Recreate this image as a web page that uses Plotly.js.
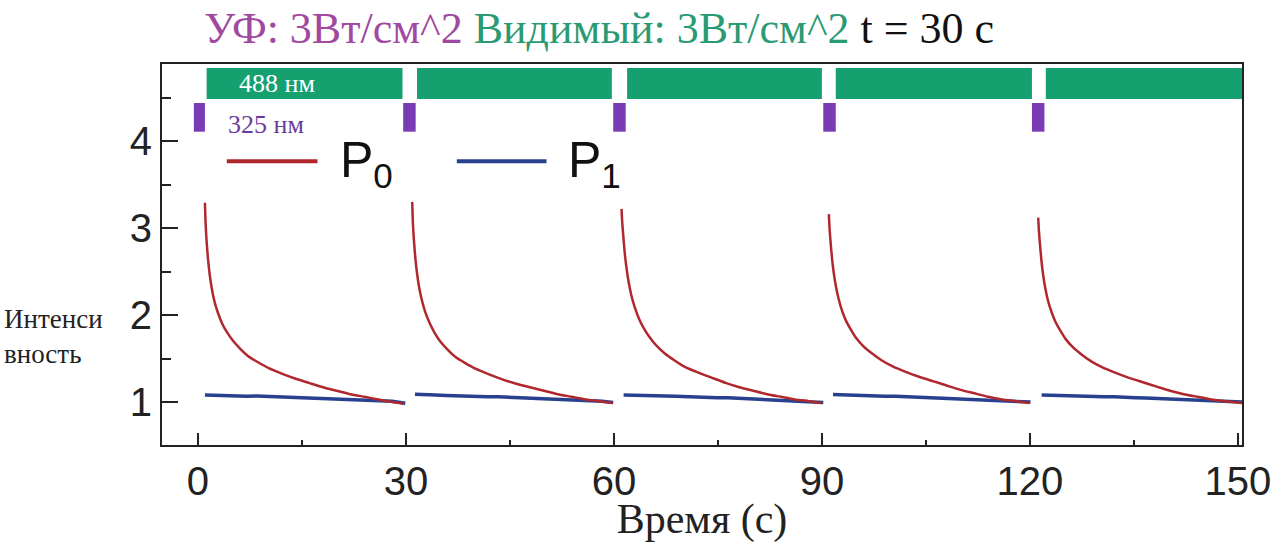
<!DOCTYPE html>
<html>
<head>
<meta charset="utf-8">
<script src="https://cdn.plot.ly/plotly-3.0.1.min.js"></script>
<style>html,body{margin:0;padding:0;background:#fff;}#chart{width:1287px;height:543px;}</style>
</head>
<body>
<div id="chart"></div>
<script>
// ---- data ----
// P0 decay curves, one segment per 30 s cycle (time in s)
const p0Time1 = [1.0, 1.1, 1.25, 1.45, 1.7, 2.0, 2.4, 2.9, 3.5, 4.2, 5.0, 6.0, 7.2, 8.6, 10.2, 12.0, 14.0, 16.0, 18.0, 20.0, 22.0, 24.0, 26.0, 28.0, 29.7];
const p0Val1  = [3.29, 3.05, 2.84, 2.64, 2.46, 2.30, 2.15, 2.02, 1.90, 1.80, 1.71, 1.62, 1.53, 1.46, 1.39, 1.33, 1.27, 1.22, 1.17, 1.13, 1.09, 1.06, 1.03, 1.00, 0.98];
const p0Time2 = [30.9, 31.0, 31.15, 31.35, 31.6, 31.9, 32.3, 32.8, 33.4, 34.1, 34.9, 35.9, 37.1, 38.5, 40.1, 41.9, 43.9, 45.9, 47.9, 49.9, 51.9, 53.9, 55.9, 57.9, 59.8];
const p0Val2  = [3.30, 3.06, 2.86, 2.66, 2.48, 2.32, 2.17, 2.03, 1.91, 1.80, 1.70, 1.61, 1.52, 1.45, 1.38, 1.32, 1.26, 1.21, 1.17, 1.13, 1.09, 1.06, 1.03, 1.01, 0.99];
const p0Time3 = [61.1, 61.2, 61.35, 61.55, 61.8, 62.1, 62.5, 63.0, 63.6, 64.3, 65.1, 66.1, 67.3, 68.7, 70.3, 72.1, 74.1, 76.1, 78.1, 80.1, 82.1, 84.1, 86.1, 88.1, 89.9];
const p0Val3  = [3.22, 3.06, 2.91, 2.72, 2.55, 2.39, 2.23, 2.09, 1.96, 1.85, 1.75, 1.65, 1.56, 1.48, 1.40, 1.34, 1.28, 1.22, 1.17, 1.13, 1.09, 1.06, 1.03, 1.01, 0.99];
const p0Time4 = [91.0, 91.1, 91.25, 91.45, 91.7, 92.0, 92.4, 92.9, 93.5, 94.2, 95.0, 96.0, 97.2, 98.6, 100.2, 102.0, 104.0, 106.0, 108.0, 110.0, 112.0, 114.0, 116.0, 118.0, 119.9];
const p0Val4  = [3.16, 3.00, 2.84, 2.66, 2.49, 2.34, 2.19, 2.05, 1.93, 1.83, 1.73, 1.64, 1.56, 1.48, 1.41, 1.35, 1.29, 1.24, 1.19, 1.14, 1.10, 1.06, 1.03, 1.01, 0.99];
const p0Time5 = [121.2, 121.3, 121.45, 121.65, 121.9, 122.2, 122.6, 123.1, 123.7, 124.4, 125.2, 126.2, 127.4, 128.8, 130.4, 132.2, 134.2, 136.2, 138.2, 140.2, 142.2, 144.2, 146.2, 148.2, 150.6];
const p0Val5  = [3.12, 2.97, 2.82, 2.64, 2.47, 2.32, 2.17, 2.04, 1.92, 1.82, 1.72, 1.63, 1.55, 1.47, 1.40, 1.34, 1.28, 1.23, 1.18, 1.13, 1.09, 1.06, 1.03, 1.01, 0.99];

// P1 (nearly flat, slightly noisy) segments
const p1Time1 = [1.0, 2.5, 4.0, 5.5, 7.0, 8.5, 10.0, 11.5, 13.0, 14.5, 16.0, 17.5, 19.0, 20.5, 22.0, 23.5, 25.0, 26.5, 28.0, 29.9];
const p1Val1  = [1.08, 1.075, 1.07, 1.075, 1.065, 1.07, 1.065, 1.06, 1.06, 1.055, 1.05, 1.05, 1.045, 1.04, 1.035, 1.03, 1.025, 1.015, 1.01, 0.985];
const p1Time2 = [31.3, 32.8, 34.3, 35.8, 37.3, 38.8, 40.3, 41.8, 43.3, 44.8, 46.3, 47.8, 49.3, 50.8, 52.3, 53.8, 55.3, 56.8, 58.3, 59.9];
const p1Val2  = [1.09, 1.08, 1.08, 1.075, 1.07, 1.07, 1.065, 1.06, 1.06, 1.055, 1.05, 1.05, 1.04, 1.04, 1.03, 1.025, 1.02, 1.015, 1.01, 0.995];
const p1Time3 = [61.4, 62.9, 64.4, 65.9, 67.4, 68.9, 70.4, 71.9, 73.4, 74.9, 76.4, 77.9, 79.4, 80.9, 82.4, 83.9, 85.4, 86.9, 88.4, 90.2];
const p1Val3  = [1.08, 1.08, 1.075, 1.07, 1.07, 1.065, 1.06, 1.06, 1.055, 1.05, 1.05, 1.045, 1.04, 1.035, 1.03, 1.025, 1.02, 1.015, 1.01, 0.995];
const p1Time4 = [91.6, 93.1, 94.6, 96.1, 97.6, 99.1, 100.6, 102.1, 103.6, 105.1, 106.6, 108.1, 109.6, 111.1, 112.6, 114.1, 115.6, 117.1, 118.6, 120.1];
const p1Val4  = [1.085, 1.08, 1.075, 1.075, 1.07, 1.065, 1.065, 1.06, 1.055, 1.05, 1.05, 1.045, 1.04, 1.035, 1.03, 1.025, 1.02, 1.015, 1.01, 1.0];
const p1Time5 = [121.7, 123.2, 124.7, 126.2, 127.7, 129.2, 130.7, 132.2, 133.7, 135.2, 136.7, 138.2, 139.7, 141.2, 142.7, 144.2, 145.7, 147.2, 148.7, 150.6];
const p1Val5  = [1.08, 1.075, 1.075, 1.07, 1.065, 1.065, 1.06, 1.06, 1.05, 1.05, 1.045, 1.04, 1.035, 1.03, 1.025, 1.02, 1.015, 1.01, 1.005, 1.0];

// illumination periods (s)
const visStart = [1.25, 31.6, 61.9, 92.0, 122.3];   // 488 nm (visible) on
const visEnd   = [29.5, 59.7, 90.0, 120.3, 150.6];
const uvStart  = [-0.6, 29.6, 59.9, 90.2, 120.3];   // 325 nm (UV) pulses
const uvEnd    = [1.0, 31.4, 61.7, 92.0, 122.1];

const xTicks = [0, 30, 60, 90, 120, 150];
const yTicks = [1, 2, 3, 4];

// ---- build traces ----
function joinSegments(ts, vs) {
  const x = [], y = [];
  ts.forEach((t, i) => { if (i > 0) { x.push(null); y.push(null); } x.push(...t); y.push(...vs[i]); });
  return {x, y};
}
const p0 = joinSegments([p0Time1, p0Time2, p0Time3, p0Time4, p0Time5], [p0Val1, p0Val2, p0Val3, p0Val4, p0Val5]);
const p1 = joinSegments([p1Time1, p1Time2, p1Time3, p1Time4, p1Time5], [p1Val1, p1Val2, p1Val3, p1Val4, p1Val5]);

const RED = '#b0282e', BLUE = '#27418f', GREEN = '#17a06f', PURPLE = '#7a3cb4';

const traces = [
  {x: p1.x, y: p1.y, name: 'P1', mode: 'lines', line: {color: BLUE, width: 3.5}, connectgaps: false, showlegend: false},
  {x: p0.x, y: p0.y, name: 'P0', mode: 'lines', line: {color: RED, width: 2.5, shape: 'spline', smoothing: 0.5}, connectgaps: false, showlegend: false}
];

const shapes = [];
visStart.forEach((s, i) => shapes.push({type: 'rect', xref: 'x', yref: 'y', x0: s, x1: visEnd[i], y0: 4.483, y1: 4.839, fillcolor: GREEN, line: {width: 0}, layer: 'below'}));
uvStart.forEach((s, i) => shapes.push({type: 'rect', xref: 'x', yref: 'y', x0: s, x1: uvEnd[i], y0: 4.107, y1: 4.437, fillcolor: PURPLE, line: {width: 0}, layer: 'below'}));
// legend line samples
shapes.push({type: 'line', xref: 'paper', yref: 'paper', x0: 0.060, x1: 0.144, y0: 0.745, y1: 0.745, line: {color: RED, width: 4}});
shapes.push({type: 'line', xref: 'paper', yref: 'paper', x0: 0.273, x1: 0.356, y0: 0.745, y1: 0.745, line: {color: BLUE, width: 4}});

const serif = 'Liberation Serif';
const sans = 'Liberation Sans';

const annotations = [
  {text: '488 нм', xref: 'x', yref: 'y', x: 5.7, y: 4.66, xanchor: 'left', yanchor: 'middle', showarrow: false, font: {family: serif, size: 26, color: '#ffffff'}},
  {text: '325 нм', xref: 'x', yref: 'y', x: 4.1, y: 4.19, xanchor: 'left', yanchor: 'middle', showarrow: false, font: {family: serif, size: 26, color: '#6b3a9b'}},
  {text: 'P<sub>0</sub>', xref: 'paper', yref: 'paper', x: 0.163, y: 0.74, xanchor: 'left', yanchor: 'middle', showarrow: false, font: {family: sans, size: 50, color: '#111'}},
  {text: 'P<sub>1</sub>', xref: 'paper', yref: 'paper', x: 0.374, y: 0.74, xanchor: 'left', yanchor: 'middle', showarrow: false, font: {family: sans, size: 50, color: '#111'}},
  {text: 'Интенси<br>вность', xref: 'paper', yref: 'paper', x: -0.148, y: 0.285, xanchor: 'left', yanchor: 'middle', align: 'left', showarrow: false, font: {family: serif, size: 27, color: '#222'}}
];

const layout = {
  width: 1287, height: 543, autosize: false,
  paper_bgcolor: '#ffffff', plot_bgcolor: '#ffffff',
  margin: {l: 162, r: 45, t: 64, b: 98},
  title: {
    text: '<span style="color:#a049a0">УФ: 3Вт/см^2</span> <span style="color:#2a9a72">Видимый: 3Вт/см^2</span> <span style="color:#111">t = 30 с</span>',
    font: {family: serif, size: 44, color: '#111'},
    xref: 'container', yref: 'container', x: 204 / 1287, xanchor: 'left', y: 1 - 28 / 543, yanchor: 'middle'
  },
  xaxis: {
    range: [-5.19, 150.6], tickvals: xTicks, ticktext: xTicks.map(String),
    ticks: 'inside', ticklen: 12, tickwidth: 2, tickcolor: '#222',
    minor: {dtick: 15, tick0: 0, ticks: 'inside', ticklen: 5, tickwidth: 2, tickcolor: '#222'},
    showline: true, linecolor: '#222', linewidth: 2, mirror: true,
    showgrid: false, zeroline: false,
    tickfont: {family: sans, size: 40, color: '#222'},
    title: {text: 'Время (с)', font: {family: serif, size: 42, color: '#222'}, standoff: 0}
  },
  yaxis: {
    range: [0.506, 4.885], tickvals: yTicks, ticktext: yTicks.map(String),
    ticks: 'inside', ticklen: 16, tickwidth: 2, tickcolor: '#222',
    minor: {dtick: 0.5, tick0: 0, ticks: 'inside', ticklen: 9, tickwidth: 2, tickcolor: '#222'},
    showline: true, linecolor: '#222', linewidth: 2, mirror: true,
    showgrid: false, zeroline: false,
    tickfont: {family: sans, size: 40, color: '#222'}
  },
  shapes: shapes,
  annotations: annotations,
  showlegend: false
};

Plotly.newPlot('chart', traces, layout, {staticPlot: true, displayModeBar: false});
</script>
</body>
</html>
